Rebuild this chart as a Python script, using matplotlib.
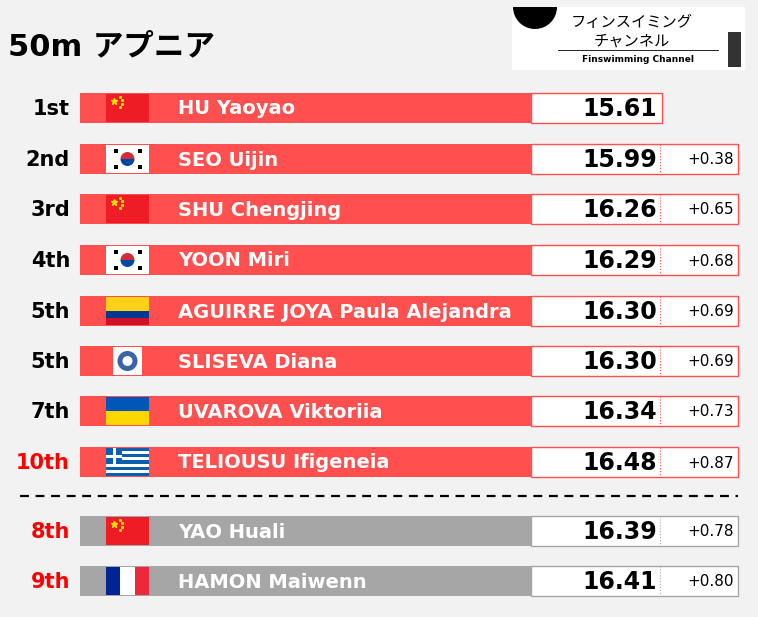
import matplotlib.pyplot as plt
from matplotlib.patches import Rectangle, Circle, Wedge

plt.rcParams['font.family'] = ['DejaVu Sans', 'Noto Sans CJK JP']

ranks = ['1st', '2nd', '3rd', '4th', '5th', '5th', '7th', '10th', '8th', '9th']
names = ['HU Yaoyao', 'SEO Uijin', 'SHU Chengjing', 'YOON Miri',
         'AGUIRRE JOYA Paula Alejandra', 'SLISEVA Diana', 'UVAROVA Viktoriia',
         'TELIOUSU Ifigeneia', 'YAO Huali', 'HAMON Maiwenn']
flags = ['CHN', 'KOR', 'CHN', 'KOR', 'COL', 'NEU', 'UKR', 'GRE', 'CHN', 'FRA']
times = [15.61, 15.99, 16.26, 16.29, 16.30, 16.30, 16.34, 16.48, 16.39, 16.41]
final = [True] * 8 + [False] * 2
red_rank = [False] * 7 + [True] * 3

RED = '#ff4f4f'
GRAY = '#a6a6a6'

fig = plt.figure(figsize=(7.58, 6.17), dpi=100)
fig.patch.set_facecolor('#f2f2f2')
ax = fig.add_axes([0, 0, 1, 1])
ax.set_xlim(0, 758)
ax.set_ylim(617, 0)
ax.axis('off')

ax.text(8, 47, '50m アプニア', fontsize=22, fontweight='bold', va='center', ha='left')

# logo
ax.add_patch(Rectangle((512, 7), 233, 63, fc='white', ec='none'))
ax.add_patch(Wedge((535, 7), 22, 0, 180, fc='black'))
ax.text(632, 22, 'フィンスイミング', fontsize=11, ha='center', va='center',
        family=['Noto Sans CJK JP'])
ax.text(632, 41, 'チャンネル', fontsize=11, ha='center', va='center',
        family=['Noto Sans CJK JP'])
ax.plot([558, 718], [50, 50], color='black', lw=0.6)
ax.text(638, 59, 'Finswimming Channel', fontsize=6.5, fontweight='bold', ha='center', va='center')
ax.add_patch(Rectangle((728, 32), 13, 35, fc='#333333'))


def draw_flag(code, x, y, w=43, h=28):
    t = y - h / 2
    if code == 'CHN':
        ax.add_patch(Rectangle((x, t), w, h, fc='#ee1c25'))
        ax.plot(x + 8, t + 7, marker='*', color='#ffde00', ms=5)
        for dx, dy in [(14, 3), (16, 6), (16, 10), (14, 13)]:
            ax.plot(x + dx, t + dy, marker='*', color='#ffde00', ms=1.8)
    elif code == 'KOR':
        ax.add_patch(Rectangle((x, t), w, h, fc='white'))
        ax.add_patch(Wedge((x + w / 2, y), 7, 180, 360, fc='#cd2e3a'))
        ax.add_patch(Wedge((x + w / 2, y), 7, 0, 180, fc='#0047a0'))
        for sx in (-1, 1):
            for sy in (-1, 1):
                ax.add_patch(Rectangle((x + w / 2 + sx * 12 - 2, y + sy * 8 - 2), 4, 4, fc='black'))
    elif code == 'COL':
        ax.add_patch(Rectangle((x, t), w, h / 2, fc='#fcd116'))
        ax.add_patch(Rectangle((x, t + h / 2), w, h / 4, fc='#003893'))
        ax.add_patch(Rectangle((x, t + 3 * h / 4), w, h / 4, fc='#ce1126'))
    elif code == 'UKR':
        ax.add_patch(Rectangle((x, t), w, h / 2, fc='#0057b7'))
        ax.add_patch(Rectangle((x, t + h / 2), w, h / 2, fc='#ffd700'))
    elif code == 'GRE':
        for i in range(9):
            ax.add_patch(Rectangle((x, t + i * h / 9), w, h / 9,
                                   fc='#0d5eaf' if i % 2 == 0 else 'white'))
        ax.add_patch(Rectangle((x, t), 16, 5 * h / 9, fc='#0d5eaf'))
        ax.add_patch(Rectangle((x + 6.5, t), 3, 5 * h / 9, fc='white'))
        ax.add_patch(Rectangle((x, t + 2 * h / 9 + 0.5), 16, 3, fc='white'))
    elif code == 'FRA':
        for i, c in enumerate(['#002395', 'white', '#ed2939']):
            ax.add_patch(Rectangle((x + i * w / 3, t), w / 3, h, fc=c))
    elif code == 'NEU':
        ax.add_patch(Rectangle((x + 7, t), 29, h, fc='white'))
        ax.add_patch(Circle((x + w / 2, y), 10, fc='#3b63a8'))
        ax.add_patch(Circle((x + w / 2, y), 5, fc='white'))


ys = [108, 159, 209, 260, 311, 361, 411, 462, 531, 581]
for i, y in enumerate(ys):
    h = 30
    ax.text(70, y + 1, ranks[i], fontsize=15, fontweight='bold', ha='right', va='center',
            color='#ff0000' if red_rank[i] else 'black')
    ax.add_patch(Rectangle((80, y - h / 2), 451, h, fc=RED if final[i] else GRAY, ec='none'))
    draw_flag(flags[i], 106, y)
    ax.text(178, y + 1, names[i], fontsize=14, fontweight='bold', color='white', ha='left', va='center')
    right = 662 if i == 0 else 738
    ax.add_patch(Rectangle((531, y - h / 2), right - 531, h, fc='white',
                           ec='#ff4f4f' if final[i] else '#a6a6a6', lw=1))
    ax.text(657, y + 1, f'{times[i]:.2f}', fontsize=17, fontweight='bold', ha='right', va='center')
    if i > 0:
        ax.plot([660, 660], [y - h / 2, y + h / 2], color='#ff4f4f' if final[i] else '#a6a6a6',
                lw=0.8, ls=':')
        ax.text(734, y + 1, f'+{times[i] - times[0]:.2f}', fontsize=11, ha='right', va='center')

ax.plot([20, 738], [496, 496], color='black', lw=1.6, ls=(0, (4, 3)))

fig.savefig('out.png', dpi=100, facecolor=fig.get_facecolor())
